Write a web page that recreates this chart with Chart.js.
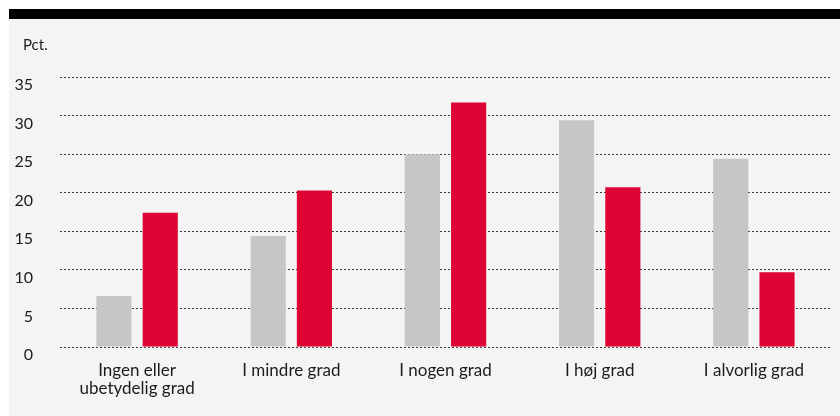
<!DOCTYPE html>
<html>
<head>
<meta charset="utf-8">
<script src="https://cdn.jsdelivr.net/npm/chart.js@4/dist/chart.umd.min.js"></script>
<style>
  body { margin: 0; background: #ffffff; }
  #box {
    position: absolute; left: 9px; top: 9px;
    width: 831px; height: 397px;
    border-top: 10px solid #000;
    background: #f4f4f4;
  }
</style>
</head>
<body>
<div id="box"><canvas id="myChart"></canvas></div>
<script>
// Chart data
var categories = [['Ingen eller', 'ubetydelig grad'], 'I mindre grad', 'I nogen grad', 'I høj grad', 'I alvorlig grad'];
var seriesGray = [6.6, 14.4, 25.0, 29.4, 24.4];
var seriesRed = [17.4, 20.3, 31.7, 20.7, 9.7];
var yTicks = [0, 5, 10, 15, 20, 25, 30, 35];
var unitLabel = 'Pct.';

var textColor = '#1c1c1c';

// draws the unit label above the value axis
var unitPlugin = {
    id: 'unitLabel',
    afterDraw: function (chart) {
        var ctx = chart.ctx;
        ctx.save();
        ctx.font = '15px Lato';
        ctx.fillStyle = textColor;
        ctx.textBaseline = 'middle';
        ctx.textAlign = 'left';
        ctx.fillText(unitLabel, 14, 26);
        ctx.restore();
    }
};

var ctx = document.getElementById('myChart').getContext('2d');
var myChart = new Chart(ctx, {
    type: 'bar',
    data: {
        labels: categories,
        datasets: [{
            label: 'A',
            data: seriesGray,
            backgroundColor: '#c5c6c5',
            categoryPercentage: 0.6,
            barPercentage: 0.76
        }, {
            label: 'B',
            data: seriesRed,
            backgroundColor: '#de0535',
            categoryPercentage: 0.6,
            barPercentage: 0.76
        }]
    },
    options: {
        responsive: true,
        maintainAspectRatio: false,
        animation: false,
        layout: { padding: { left: 1, right: 9, top: 58, bottom: 0 } },
        plugins: {
            legend: { display: false },
            tooltip: { enabled: false }
        },
        scales: {
            x: {
                grid: { display: false },
                border: { display: false },
                ticks: {
                    color: textColor,
                    font: { family: 'Lato', size: 17, lineHeight: 1.05 },
                    padding: 7,
                    maxRotation: 0,
                    autoSkip: false
                },
                afterFit: function (scale) { scale.height = 69; }
            },
            y: {
                min: 0,
                max: 35,
                afterBuildTicks: function (scale) {
                    scale.ticks = yTicks.map(function (v) { return { value: v }; });
                },
                grid: {
                    color: '#3a3a3a',
                    lineWidth: 1,
                    drawTicks: false
                },
                border: { display: false, dash: [2, 2] },
                ticks: {
                    color: textColor,
                    font: { family: 'Lato', size: 16 },
                    padding: 27,
                    labelOffset: 8
                },
                afterFit: function (scale) { scale.width = 50; }
            }
        }
    },
    plugins: [unitPlugin]
});
</script>
</body>
</html>
